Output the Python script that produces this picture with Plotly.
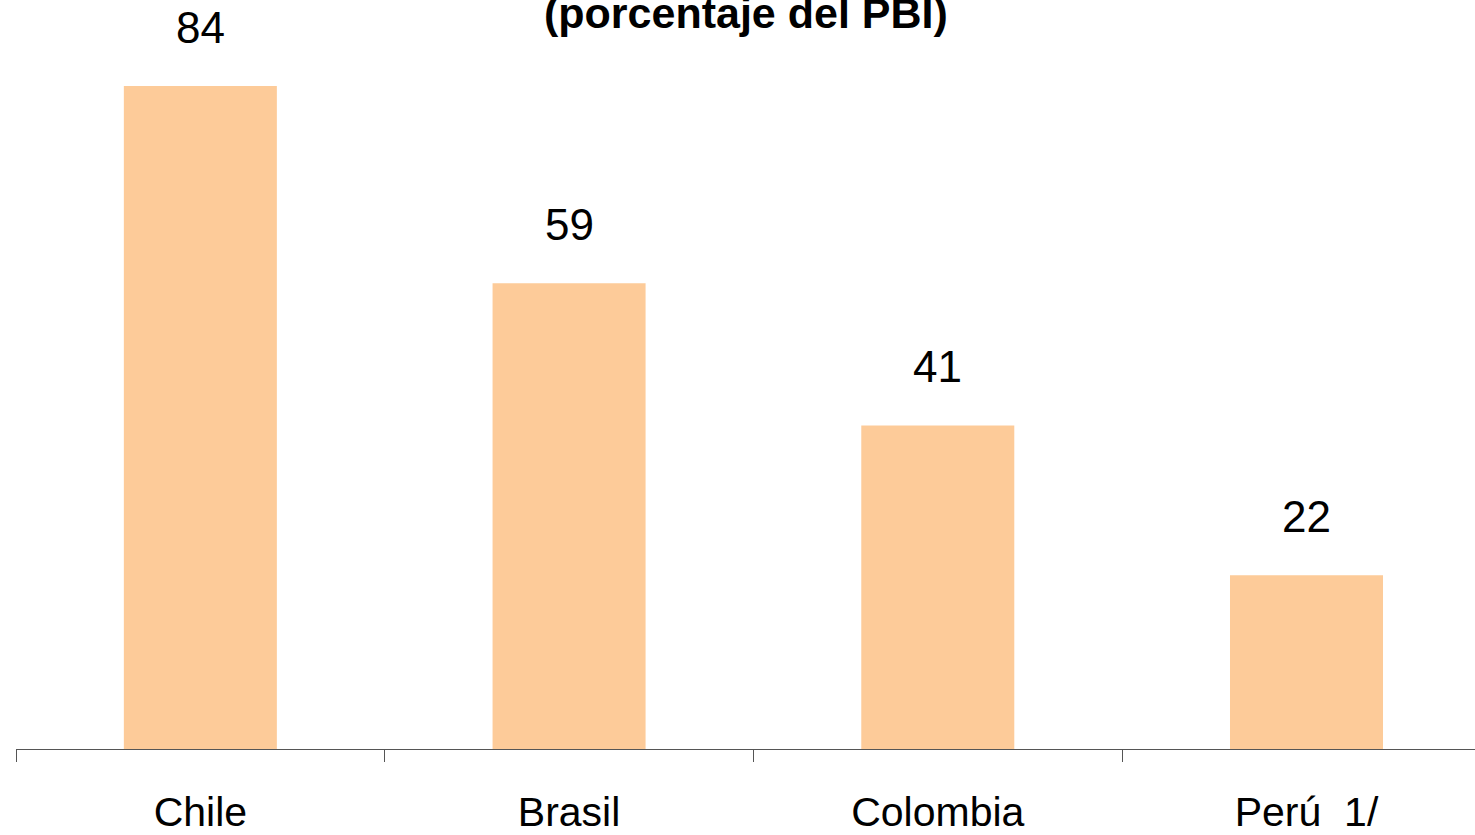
import plotly.graph_objects as go

# data
paises = ['Chile', 'Brasil', 'Colombia', 'Perú\u00a0 1/']
valores = [84, 59, 41, 22]
titulo = '(porcentaje del PBI)'

fig = go.Figure()
fig.add_trace(go.Bar(x=paises, y=valores, marker=dict(color='#FDCB99', line=dict(width=0)),
                     width=0.415, hoverinfo='x+y'))

# value labels above each bar
for p, v in zip(paises, valores):
    fig.add_annotation(x=p, y=v, text=str(v), showarrow=False, yanchor='bottom', yshift=32,
                       font=dict(family='Liberation Sans, Arial', size=44, color='black'))

fig.add_annotation(xref='paper', yref='paper', x=0.5, y=0.948, text='<b>' + titulo + '</b>',
                   showarrow=False, yanchor='bottom', xanchor='center',
                   font=dict(family='Liberation Sans, Arial', size=43, color='black'))

fig.update_xaxes(range=[-0.5, 3.457], showline=True, linecolor='#555555', linewidth=1,
                 ticks='outside', tickson='boundaries', ticklen=12, tickcolor='#555555',
                 ticklabelstandoff=27,
                 tickfont=dict(family='Liberation Sans, Arial', size=41, color='black'),
                 showgrid=False, zeroline=False)
fig.update_yaxes(range=[0, 94.9], visible=False, showgrid=False, zeroline=False)

fig.update_layout(width=1475, height=835, margin=dict(l=16, r=0, t=0, b=86),
                  plot_bgcolor='white', paper_bgcolor='white', showlegend=False,
                  bargap=0.585)

# page has a default 8px body margin; drop it so the figure sits at the corner
fig.write_html('out.html', config={'displayModeBar': False},
               post_script="document.body.style.margin='0';")
